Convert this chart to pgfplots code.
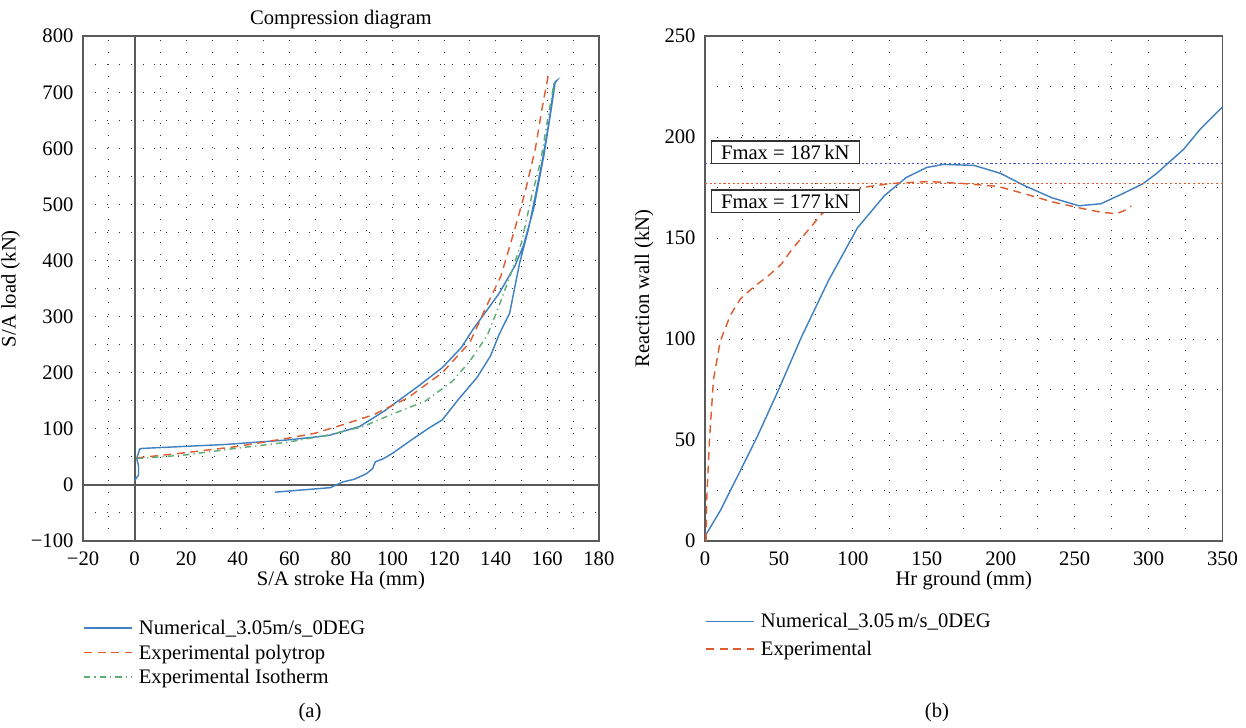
\documentclass[border=0pt]{standalone}
\usepackage{fontspec}
\setmainfont{Liberation Serif}
\usepackage{pgfplots}
\pgfplotsset{compat=1.18}

\definecolor{numblue}{RGB}{62,128,194}
\definecolor{polyred}{RGB}{222,92,48}
\definecolor{isogreen}{RGB}{92,172,118}
\definecolor{framegray}{RGB}{90,90,90}
\definecolor{maxblue}{RGB}{70,80,210}

\newcommand{\chartfont}{\fontsize{13}{15.5}\selectfont}

\pgfplotsset{
  panel/.style={
    scale only axis,
    axis line style={framegray, line width=1.1pt},
    major tick length=0pt, minor tick length=0pt,
    grid=both,
    major grid style={black!80, line width=0.6pt, dash pattern=on 0.6pt off 6.9pt},
    minor grid style={black!80, line width=0.6pt, dash pattern=on 0.6pt off 6.9pt},
    tick label style={font=\chartfont},
    xticklabel style={yshift=-3pt},
    yticklabel style={xshift=-2.5pt},
    xlabel style={yshift=3pt},
    label style={font=\chartfont},
    title style={font=\chartfont},
    legend cell align=left,
    legend style={draw=none, fill=none, font=\chartfont, inner xsep=0pt, inner ysep=0pt,
                  /tikz/every odd column/.append style={column sep=2pt}},
    legend image code/.code={\draw[#1, line width=1pt] plot coordinates {(0pt,0.3pt) (30pt,0.3pt)};},
  },
}

\begin{document}
\begin{tikzpicture}

% ---------------- (a) Compression diagram ----------------
\begin{axis}[panel,
  at={(0pt,0pt)}, anchor=south west,
  width=325pt, height=318pt,
  xmin=-20, xmax=180, ymin=-100, ymax=800,
  xtick={-20,0,20,40,60,80,100,120,140,160,180},
  xticklabels={−20,0,20,40,60,80,100,120,140,160,180},
  minor xtick={-10,10,30,50,70,90,110,130,150,170},
  ytick={-100,0,100,200,300,400,500,600,700,800},
  yticklabels={−100,0,100,200,300,400,500,600,700,800},
  minor ytick={-50,50,150,250,350,450,550,650,750},
  title={Compression diagram},
  title style={yshift=-5pt},
  xlabel={S/A stroke Ha (mm)},
  ylabel={S/A load (kN)},
  legend style={at={(0,-0.15)}, anchor=north west, row sep=1pt},
]
% zero lines
\draw[framegray, line width=1.3pt] (axis cs:0,-100) -- (axis cs:0,800);
\draw[framegray, line width=1.3pt] (axis cs:-20,0) -- (axis cs:180,0);

\addplot[numblue, line width=0.9pt] coordinates {
(0,8) (1.5,17) (1.5,35) (0.8,47) (2,64) (3.1,65) (35.1,72) (59.2,80) (75.2,88)
(87.2,104) (96.6,131) (110,176) (119.3,209) (126.7,245) (131.3,278) (136.7,312)
(141.4,342) (147.4,390) (150.7,426) (154.7,492) (158.7,588) (161.4,666) (163.1,719)
(163.7,721) (162.7,715) (160.7,648) (158,576) (155.4,516) (152.7,456) (149.3,396)
(145.4,306) (141.4,269) (138,230) (132.7,191) (126,155) (119.3,116) (114,101)
(107.3,80) (99.9,56) (96.6,47) (93.3,41) (92.3,29) (89.9,20) (85.2,10) (80.6,5)
(75.9,-5) (54.5,-13)
};
\addlegendentry{Numerical\_3.05m/s\_0DEG}

\addplot[polyred, line width=0.9pt, dash pattern=on 5pt off 3.5pt] coordinates {
(0.8,48) (19.1,57) (39.1,68) (59.2,83) (69.9,92) (80.6,107) (92.6,125) (105.9,155)
(119.3,200) (130,254) (137.3,327) (142,372) (147.4,456) (151.4,522) (155.4,600)
(158,672) (160.3,728)
};
\addlegendentry{Experimental polytrop}

\addplot[isogreen, line width=0.9pt, dash pattern=on 4pt off 2.5pt on 0.8pt off 2.5pt] coordinates {
(0.8,47) (19.1,53) (39.1,65) (59.2,76) (75.2,89) (88.6,104) (99.3,125) (112.6,149)
(123.3,185) (130,221) (136.7,266) (140.7,312) (146,378) (150,432) (154,516)
(157.4,576) (160,648) (162.7,718)
};
\addlegendentry{Experimental Isotherm}
\end{axis}

% ---------------- (b) Reaction wall ----------------
\begin{axis}[panel,
  at={(391.9pt,0pt)}, anchor=south west,
  width=326pt, height=318pt,
  xmin=0, xmax=350, ymin=0, ymax=250,
  xtick={0,50,...,350}, minor xtick={25,75,...,325},
  ytick={0,50,...,250}, minor ytick={25,75,...,225},
  /pgf/number format/assume math mode=true,
  xlabel={Hr ground (mm)},
  ylabel={Reaction wall (kN)},
  legend style={at={(0,-0.137)}, anchor=north west, row sep=3pt},
]
\addplot[numblue, line width=0.9pt] coordinates {
(0.5,3) (10.3,15) (24,35) (35.5,52) (49.2,74) (65.2,101) (83.5,129) (103,155)
(121.3,171) (136,180) (150,185) (161.3,186.5) (182,186) (200,182) (216,176)
(234.5,170) (252.8,166) (267.7,167) (282.5,172) (296.3,177) (305.4,182)
(323.7,194) (335,204) (350,215)
};
\addlegendentry{Numerical\_3.05\,m/s\_0DEG}

\addplot[polyred, line width=0.9pt, dash pattern=on 5pt off 3.5pt] coordinates {
(0.7,0) (1.1,20) (3,50) (5.7,80) (10.3,99) (17.2,112) (24,120) (33.2,126)
(42.3,131) (51.5,137) (58.3,144) (67.5,152) (79,162) (92.7,170) (106.4,175)
(124.7,177) (152,178) (175,177) (198,175.6) (216,172) (234.5,168) (252.8,165)
(266.5,163) (278,162) (284.8,164) (288.3,166)
};
\addlegendentry{Experimental}

% maximum force reference lines
\addplot[maxblue, line width=1pt, dash pattern=on 1.3pt off 1.6pt, forget plot]
  coordinates {(0,187) (350,187)};
\addplot[polyred, line width=1pt, dash pattern=on 1.3pt off 1.6pt, forget plot]
  coordinates {(0,177) (350,177)};

\node[draw=black!80, line width=0.7pt, fill=white, anchor=west, inner xsep=5pt, inner ysep=0.5pt,
      minimum width=93pt, minimum height=14pt, font=\chartfont]
  at (axis cs:4,192.6) {Fmax = 187\,kN\hfill};
\node[draw=black!80, line width=0.7pt, fill=white, anchor=west, inner xsep=5pt, inner ysep=0.5pt,
      minimum width=93pt, minimum height=14pt, font=\chartfont]
  at (axis cs:4,168.3) {Fmax = 177\,kN\hfill};
\end{axis}

\node[font=\chartfont] at (143pt,-108.4pt) {(a)};
\node[font=\chartfont] at (538pt,-108.4pt) {(b)};

% page frame
\pgfresetboundingbox
\useasboundingbox (-52.3pt,-117.8pt) rectangle (732.7pt,340.8pt);
\end{tikzpicture}
\end{document}
